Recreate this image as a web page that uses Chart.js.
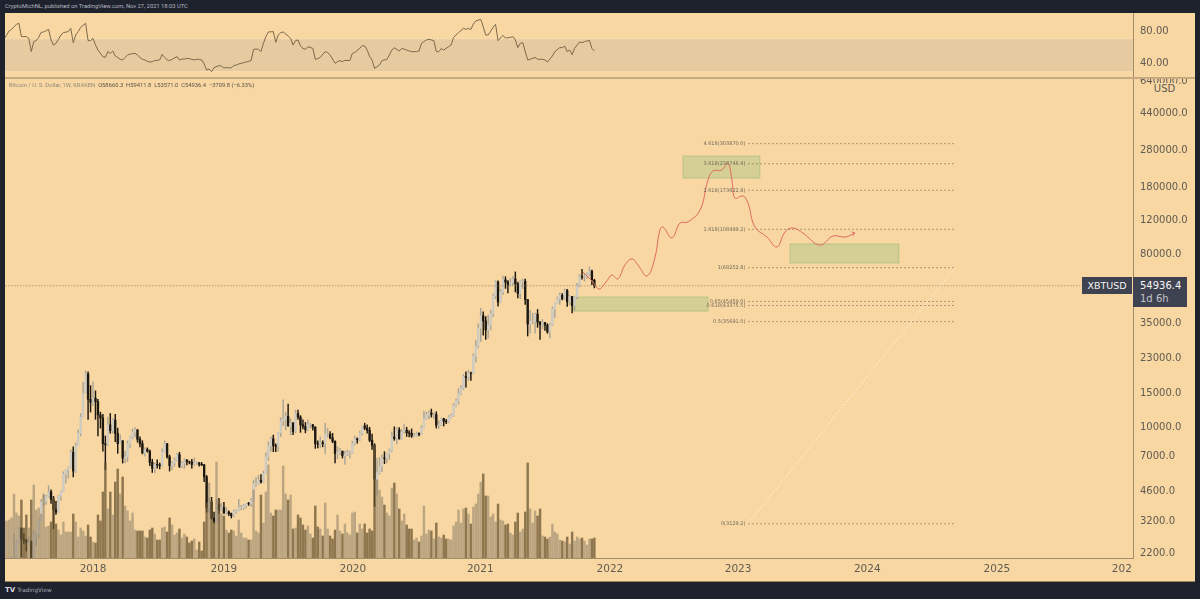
<!DOCTYPE html>
<html>
<head>
<meta charset="utf-8">
<title>XBTUSD</title>
<script src="https://cdn.jsdelivr.net/npm/chart.js@4"></script>
<style>
    html, body { margin: 0; padding: 0; background: #1e222d; width: 1200px; height: 599px; overflow: hidden; }
    body { position: relative; font-family: "DejaVu Sans", sans-serif; }
    canvas { position: absolute; left: 5px; display: block; }
    #rsiChart { top: 13px; }
    #mainChart { top: 78px; }
    #separator { position: absolute; left: 5px; top: 77px; width: 1190px; height: 1.5px; background: #c6ab82; }
    #bottomEdge { position: absolute; left: 5px; top: 581px; width: 1190px; height: 1px; background: #9a8255; }
    #header { position: absolute; left: 5px; top: 3px; font-family: Roboto, sans-serif; font-size: 5.8px; color: #b4b7c0; white-space: nowrap; }
    #legend { position: absolute; left: 9px; top: 82px; font-family: Roboto, sans-serif; font-size: 5.8px; color: #55524a; white-space: pre; }
    #legend span { color: #8f8a7c; }
    #footer { position: absolute; left: 5px; top: 586px; font-size: 5.7px; color: #a5a8b2; white-space: nowrap; }
    #footer b { color: #d8dae0; font-size: 7px; margin-right: 2px; }
    #unit { position: absolute; left: 1153px; top: 83px; width: 23px; height: 12px; background: #f9d7a3; color: #5d5a55; font-size: 10px; line-height: 12px; text-align: center; }
    #symbolTag { position: absolute; left: 1082px; top: 277px; width: 50px; height: 17px; background: #3f4250; color: #f2f2f2; font-size: 9.5px; line-height: 17px; text-align: center; }
    #priceTag { position: absolute; left: 1133px; top: 277px; width: 54px; height: 30px; background: #3f4250; color: #f5f5f5; font-size: 10px; line-height: 13px; }
    #priceTag div { padding-left: 7px; padding-top: 2px; }
    #priceTag div + div { color: #c3c4c9; padding-top: 0; }
</style>
</head>
<body>
<div id="header">CryptoMichNL, published on TradingView.com, Nov 27, 2021 18:03 UTC</div>
<canvas id="rsiChart" width="1190" height="65"></canvas>
<canvas id="mainChart" width="1190" height="503"></canvas>
<div id="separator"></div>
<div id="bottomEdge"></div>
<div id="legend"><span>Bitcoin / U. S. Dollar, 1W, KRAKEN</span>  O58660.3  H59411.8  L53571.0  C54936.4  −3709.8 (−6.33%)</div>
<div id="unit">USD</div>
<div id="symbolTag">XBTUSD</div>
<div id="priceTag"><div>54936.4</div><div>1d 6h</div></div>
<div id="footer"><b>TV</b>TradingView</div>

<script>
// -----------------------------
// Data (weekly bars)
// -----------------------------
const candleOpen = [
    1250,1340,1590,1780,2050,2050,2500,2950,2600,2560,
    2500,2520,1950,2750,2750,3250,4050,4100,4350,4600,
    4200,3700,3600,4350,4600,5700,6000,6150,7400,5900,
    8000,9300,11300,15000,19000,14000,13500,14200,13600,11600,
    11200,8200,8100,10300,9600,10900,9300,8200,8500,6900,
    7000,8200,8900,9400,9700,8650,8200,7350,7650,7500,
    6550,6100,6400,6350,6300,7400,8200,7000,6300,6500,
    6700,7200,6250,6500,6700,6600,6580,6400,6500,6500,
    6400,6350,5500,3800,4050,3350,3200,3950,3700,3800,
    3550,3600,3530,3450,3620,3650,3800,3810,3900,3990,
    3980,4130,5050,5070,5280,5180,5730,7000,8000,8700,
    8000,7950,9350,10800,11000,11400,10200,10500,9500,11800,
    11300,10300,10100,9700,10300,10300,10030,8200,8150,8300,
    8200,9200,9200,8800,8450,7300,7400,7500,7100,7250,
    7350,7350,8180,8700,8600,9300,10150,9900,9650,8550,
    8050,5350,5800,6250,6900,6850,7250,7550,8900,8720,
    9680,8700,9450,9650,9350,9300,9000,9050,9300,9200,
    9950,11050,11600,11850,11650,11650,10250,10300,11100,10750,
    10680,11300,11500,13000,13750,15000,16000,18400,18200,19200,
    19150,23500,26500,33000,38300,36000,32300,34300,39200,48600,
    57500,45200,51000,59000,57400,55800,57100,59700,56200,50100,
    57800,58000,46500,34700,35700,35800,39000,35500,34500,35300,
    34200,31500,34300,41500,44600,47000,49000,47000,51800,45200,
    48300,43200,48200,55000,61500,61000,61300,63300,65500,58660.3
];
const candleHigh = [
    1350,1650,1880,2100,2780,2550,3000,2980,2780,2600,
    2670,2540,2900,2800,3300,4200,4500,4400,4950,4700,
    4350,4100,4400,4650,5850,6000,6200,7600,7900,8300,
    9700,11800,17200,19700,19500,16500,17300,15500,14000,12000,
    11700,9000,11300,11800,11100,11700,9900,9150,8500,7500,
    8500,9000,9800,9950,9700,8900,8500,7800,7800,7600,
    6800,6500,6750,6500,7700,8500,8250,7150,6600,6900,
    7300,7400,6600,6850,6800,6650,6800,6900,6600,6550,
    6550,6400,5600,4300,4300,3600,4200,4250,4000,4050,
    3800,3650,3560,3700,3700,4200,3900,3950,4000,4050,
    4250,5300,5450,5600,5650,5900,7350,8400,8900,9100,
    8200,9400,11200,13900,12000,13200,11100,10600,12300,12300,
    11500,10950,10600,10900,10500,10350,10050,8500,8900,8500,
    10500,9900,9500,9300,8500,7900,7750,7500,7500,7600,
    7500,8450,9000,8800,9550,10150,10500,10300,10000,9200,
    8200,6900,6950,7150,7450,7300,7700,9450,10050,9950,
    9950,9700,10400,10000,9600,9800,9300,9450,9350,10200,
    12100,12000,12200,12450,11900,12050,10800,11200,11150,11000,
    11500,11750,13350,14100,15950,16500,18900,19500,19900,19450,
    24200,28400,34800,41900,40100,37900,38600,41000,49700,58400,
    58300,52600,61800,61300,58400,60000,61300,64900,57500,58500,
    59500,59500,46500,40900,39500,39500,41300,35700,36600,35400,
    34800,34800,42500,44800,48000,50500,50000,52900,52700,48800,
    48400,48500,56500,62900,67000,63700,64200,69000,66300,59411.8
];
const candleLow = [
    1230,1340,1560,1720,1950,2050,2480,2100,2450,2250,
    2480,1950,1850,2400,2650,3250,3900,3950,4300,4000,
    2950,3500,3600,4150,4600,5100,5400,6100,5500,5800,
    8000,9000,11300,15000,11000,12000,13000,11000,9000,9900,
    7500,6000,8000,9300,9300,8400,7300,8200,6500,6500,
    6600,7800,8700,8900,8350,7900,7250,7050,7400,6300,
    5800,5770,6100,6050,6250,7400,6900,5900,6000,6250,
    6650,6150,6150,6100,6350,6430,6100,6300,6400,6250,
    6300,5200,3600,3600,3300,3150,3200,3550,3650,3550,
    3500,3450,3350,3400,3550,3650,3700,3700,3780,3900,
    3850,4100,4900,5020,5100,5150,5700,6700,7500,7450,
    7450,7500,8950,10200,9700,10100,9100,9150,9350,11000,
    9400,9800,9350,9600,9900,9650,7750,7800,7800,7900,
    7300,8900,8700,8300,6500,6850,7200,6900,6400,7100,
    6900,7300,8050,8250,8500,9100,9700,9300,8400,7650,
    3850,4400,5700,5850,6450,6500,6800,7450,8550,8200,
    8650,8650,9300,8950,8900,8850,8900,9000,9000,9150,
    9900,11000,11100,11300,11100,9900,9850,10200,10150,10450,
    10550,11200,11400,12800,13200,14800,15700,16200,17600,17600,
    19000,21900,26000,28000,30300,28800,29300,32300,37900,47000,
    43000,44900,49300,53200,50400,54800,55500,51000,47500,47000,
    53000,43900,30000,31000,34800,31000,33300,28800,32700,32100,
    31000,29300,34000,37400,44600,43900,46300,46500,42800,43600,
    39600,40800,46900,54200,59500,58000,60000,62000,55600,53571
];
const candleClose = [
    1340,1590,1780,2050,2050,2500,2950,2600,2560,2500,
    2520,1950,2750,2750,3250,4050,4100,4350,4600,4200,
    3700,3600,4350,4600,5700,6000,6150,7400,5900,8000,
    9300,11300,15000,19000,14000,13500,14200,13600,11600,11200,
    8200,8100,10300,9600,10900,9300,8200,8500,6900,7000,
    8200,8900,9400,9700,8650,8200,7350,7650,7500,6550,
    6100,6400,6350,6300,7400,8200,7000,6300,6500,6700,
    7200,6250,6500,6700,6600,6580,6400,6500,6500,6400,
    6350,5500,3800,4050,3350,3200,3950,3700,3800,3550,
    3600,3530,3450,3620,3650,3800,3810,3900,3990,3980,
    4130,5050,5070,5280,5180,5730,7000,8000,8700,8000,
    7950,9350,10800,11000,11400,10200,10500,9500,11800,11300,
    10300,10100,9700,10300,10300,10030,8200,8150,8300,8200,
    9200,9200,8800,8450,7300,7400,7500,7100,7250,7350,
    7350,8180,8700,8600,9300,10150,9900,9650,8550,8050,
    5350,5800,6250,6900,6850,7250,7550,8900,8720,9680,
    8700,9450,9650,9350,9300,9000,9050,9300,9200,9950,
    11050,11600,11850,11650,11650,10250,10300,11100,10750,10680,
    11300,11500,13000,13750,15000,16000,18400,18200,19200,19150,
    23500,26500,33000,38300,36000,32300,34300,39200,48600,57500,
    45200,51000,59000,57400,55800,57100,59700,56200,50100,57800,
    58000,46500,34700,35700,35800,39000,35500,34500,35300,34200,
    31500,34300,41500,44600,47000,49000,47000,51800,45200,48300,
    43200,48200,55000,61500,61000,61300,63300,65500,59000,54936.4
];
const volumes = [
    36,37,38,40,64,45,42,58,30,43,
    30,58,73,48,50,44,63,31,32,36,
    60,34,28,23,36,26,26,26,44,36,
    21,30,27,22,33,21,16,15,43,37,
    66,95,49,66,43,76,89,64,81,52,
    47,37,45,28,27,27,27,21,20,28,
    30,24,18,18,30,31,26,40,33,23,
    25,29,20,24,21,15,17,19,8,16,
    7,36,55,75,57,36,96,58,44,42,
    28,25,28,27,22,38,25,20,20,18,
    18,68,27,25,63,35,66,93,45,42,
    48,48,48,92,64,58,63,29,30,43,
    40,33,28,32,24,20,52,31,29,22,
    55,29,22,19,28,43,27,24,34,25,
    23,45,46,25,34,29,34,25,29,27,
    113,78,68,61,53,45,42,70,75,64,
    49,37,44,33,29,29,18,20,16,22,
    52,24,28,27,19,35,21,20,23,19,
    19,18,32,36,48,35,49,50,44,34,
    51,54,64,76,84,62,62,41,44,36,
    54,38,37,33,34,25,23,36,45,26,
    29,46,95,49,35,47,42,49,22,21,
    19,21,34,26,24,18,17,16,21,14,
    26,17,21,19,20,17,13,19,19,20
];
const volumeMax = 480;

// RSI pane, vertices of the line
const rsiWeeks = [
    0,1,2,3,4,5,6,7,8,9,10,11,12,13,14,15,16,17,18,19,20,21,22,23,24,26,27,28,29,30,31,33,34,35,36,37,38,40,41,42,43,44,45,46,47,48,49,50,51,53,54,55,56,57,58,59,60,61,63,64,65,66,67,68,70,71,72,73,74,75,77,78,79,80,81,82,83,84,85,87,88,89,90,91,92,93,94,95,97,98,100,101,102,103,104,105,106,107,109,110,111,112,113,115,116,117,118,119,120,121,122,123,125,126,127,128,130,131,132,134,135,136,137,138,140,141,142,144,145,146,147,148,149,150,151,152,153,155,156,157,158,160,
    161,163,164,165,167,168,169,171,172,174,175,176,177,178,180,181,182,184,186,187,188,189,190,191,193,194,195,196,198,199,200,202,203,205,206,207,208,209,210,212,213,215,216,218,219,220,222,223,225,226,227,228,229,230,231,233,234,235,237,238,239
];
const rsiValues = [
    69.6,75,80,82,85.4,88.3,89.6,73,73,73,70.8,54.2,66.7,67.9,72,78.3,78.8,80.4,82,68.8,62.5,64.6,69.6,75,78,79.2,83.3,65.4,75,79.2,84.6,89.6,68,68,70.8,62.5,56.2,48,47,54.2,52,55,48.8,47,44.6,43.8,47,50,51.2,52,50,47,44.6,43.8,42,41.2,41.7,43,43.8,50.8,47,43.8,43,44.6,48,43.8,45,45,45.8,45.4,43.8,44.6,44.6,43.8,38.8,31.2,32.5,29.2,34.2,36.7,36.2,33.8,34.2,33.8,34.2,36.7,37.5,38.8,40.4,41.2,43,57,57.5,57,54.2,64.6,73,78.8,79.2,65.8,75,78,78.8,73.8,70.8,62.5,68,68.8,61.2,58.3,57,60.4,58.3,44.6,45.4,47,54.2,53,50,39.6,41.7,43,41.7,43.3,43,52,53.3,58.3,61.7,61.2,56.2,48,43.8,33.3,35.4,37.5,43,44.6,50,56.2,59,55,
    58.3,56.2,55,54.2,54.2,55,64.6,68.8,69.6,68,54.2,54.2,58,56.2,60.4,62.5,72,78,83.3,82,83.3,82,88.8,92.5,94.6,85.4,75,75,84.6,88.3,68,74.6,71.2,72,73,68.8,59.2,64.6,65.4,43.8,44.6,47,44.6,44.6,43.8,41.2,48.8,54.2,59.2,59.2,61.2,54.2,56.2,50.4,58.3,66.2,65.4,66.7,68.3,58.3,55
];
const rsiBandTop = 70;
const rsiBandBottom = 30;
const rsiTicks = [80, 40];
const rsiRange = [21.25, 102.5];

// Axes
const priceTicks = [640000, 440000, 280000, 180000, 120000, 80000, 35000, 23000, 15000, 10000, 7000, 4600, 3200, 2200];
const priceRange = [2071, 670600];
const weekRange = [0.36, 457.1];
const yearLabels = ["2018", "2019", "2020", "2021", "2022", "2023", "2024", "2025", "202"];
const yearWeeks = [36, 89, 141.2, 192.8, 245.3, 297.2, 349.5, 402, 452.6];

// Last price
const lastPrice = 54936.4;

// Fibonacci levels
const fibLabels = ["4.618(303870.0)", "3.618(238746.4)", "2.618(173622.8)", "1.618(108499.2)", "1(68252.8)", "0.65(45459.0)", "0.618(43375.5)", "0.5(35691.0)", "0(3129.2)"];
const fibPrices = [303870, 238746.4, 173622.8, 108499.2, 68252.8, 45459, 43375.5, 35691, 3129.2];
const fibWeeks = [301.2, 385];

// Faint diagonal between the 0 and the 1 level
const trendWeeks = [301.2, 385];
const trendPrices = [3129.2, 68252.8];

// Red projected path
const pathWeeks = [234.4, 238.4, 240.9, 243.7, 246.1, 248.5, 251.4, 254.2, 256.6, 260.3, 263.5, 265.5, 266.8, 270.4, 273.7, 276.9, 281.8, 285, 287, 290.6, 293.1, 294.7, 295.9, 299.2, 301.2, 304, 308.9, 312.9, 316.2, 319.4, 323.4, 330.3, 335.6, 340.5, 344.5];
const pathPrices = [64800, 57500, 52800, 57500, 62500, 59600, 70600, 75900, 70600, 61800, 76800, 107500, 111500, 97700, 117000, 118500, 136800, 196000, 218800, 221500, 240900, 196000, 158000, 162000, 148700, 111500, 98800, 87600, 105000, 110200, 103700, 89700, 100000, 98800, 103700];

// Green boxes
const boxWeekStart = [274.9, 318.2, 230.3];
const boxWeekEnd = [306, 362.3, 285];
const boxPriceTop = [262000, 90900, 48000];
const boxPriceBottom = [201000, 72300, 40500];

// -----------------------------
// Colours
// -----------------------------
const paneBg = "#f9d7a3";
const axisText = "#5f5b52";
const axisLine = "#a08d6c";
const upCandle = "#cfccc3";
const upWick = "#a9a599";
const downCandle = "#1c1710";
const upVolume = "rgba(150,135,110,0.62)";
const downVolume = "rgba(105,85,50,0.75)";
const bandEdge = "rgba(246,224,188,0.9)";

Chart.defaults.font.family = "'DejaVu Sans', sans-serif";
Chart.defaults.animation = false;

const weeks = candleClose.map((_, i) => i);
function flat(xs, value) { return xs.map(x => ({ x: x, y: value })); }
function pairs(xs, ys) { return xs.map((x, i) => ({ x: x, y: ys[i] })); }

// fixed axis strips, no extra room for half labels at the ends
function fitRight(scale) {
    scale.width = 62;
    scale.paddingTop = 0;
    scale.paddingBottom = 0;
}
function fitBottom(scale) {
    scale.height = 23;
    scale.paddingLeft = 0;
    scale.paddingRight = 0;
}

// -----------------------------
// Plugins
// -----------------------------
const paneBackground = {
    id: "paneBackground",
    beforeDraw(chart) {
        const ctx = chart.ctx;
        ctx.save();
        ctx.fillStyle = paneBg;
        ctx.fillRect(0, 0, chart.width, chart.height);
        ctx.restore();
    }
};

const boxesPlugin = {
    id: "boxes",
    beforeDatasetsDraw(chart) {
        const { ctx, scales: { x, y } } = chart;
        ctx.save();
        ctx.fillStyle = "rgba(140,190,120,0.32)";
        ctx.strokeStyle = "rgba(130,180,110,0.45)";
        ctx.lineWidth = 1;
        boxWeekStart.forEach((start, i) => {
            const left = x.getPixelForValue(start);
            const right = x.getPixelForValue(boxWeekEnd[i]);
            const top = y.getPixelForValue(boxPriceTop[i]);
            const bottom = y.getPixelForValue(boxPriceBottom[i]);
            ctx.fillRect(left, top, right - left, bottom - top);
            ctx.strokeRect(left, top, right - left, bottom - top);
        });
        ctx.restore();
    }
};

const overlayPlugin = {
    id: "overlay",
    afterDatasetsDraw(chart) {
        const { ctx, scales: { x, y } } = chart;
        ctx.save();

        // fib labels
        ctx.font = "5px 'DejaVu Sans'";
        ctx.fillStyle = "#6e6a5a";
        ctx.textAlign = "right";
        ctx.textBaseline = "middle";
        fibLabels.forEach((label, i) => {
            ctx.fillText(label, x.getPixelForValue(fibWeeks[0]) - 2.5, y.getPixelForValue(fibPrices[i]));
        });

        // arrow head on the red path
        const n = pathWeeks.length - 1;
        const tipX = x.getPixelForValue(pathWeeks[n]);
        const tipY = y.getPixelForValue(pathPrices[n]);
        ctx.strokeStyle = "#df6a60";
        ctx.lineWidth = 0.9;
        ctx.beginPath();
        ctx.moveTo(tipX - 3.5, tipY - 1.2);
        ctx.lineTo(tipX, tipY);
        ctx.lineTo(tipX - 2.2, tipY + 3);
        ctx.stroke();
        ctx.restore();
    }
};

// -----------------------------
// RSI pane
// -----------------------------
new Chart(document.getElementById("rsiChart"), {
    type: "line",
    plugins: [paneBackground],
    data: {
        datasets: [
            {
                data: pairs(rsiWeeks, rsiValues),
                borderColor: "#7c6a4c",
                borderWidth: 1,
                pointRadius: 0,
                order: 0
            },
            {
                data: flat(weekRange, rsiBandTop),
                borderColor: bandEdge,
                borderWidth: 1,
                borderDash: [2, 2],
                backgroundColor: "#e6cba0",
                fill: "+1",
                pointRadius: 0,
                order: 1
            },
            {
                data: flat(weekRange, rsiBandBottom),
                borderColor: bandEdge,
                borderWidth: 1,
                borderDash: [2, 2],
                pointRadius: 0,
                order: 1
            }
        ]
    },
    options: {
        responsive: false,
        layout: { padding: 0 },
        plugins: { legend: { display: false }, tooltip: { enabled: false } },
        scales: {
            x: { type: "linear", min: weekRange[0], max: weekRange[1], display: false },
            y: {
                position: "right",
                min: rsiRange[0],
                max: rsiRange[1],
                afterFit: fitRight,
                afterBuildTicks(scale) { scale.ticks = rsiTicks.map(v => ({ value: v })); },
                grid: { display: false, drawTicks: false },
                border: { display: true, color: axisLine },
                ticks: {
                    color: axisText,
                    font: { size: 10 },
                    padding: 7,
                    crossAlign: "near",
                    autoSkip: false,
                    callback: v => Number(v).toFixed(2)
                }
            }
        }
    }
});

// -----------------------------
// Price + volume pane
// -----------------------------
new Chart(document.getElementById("mainChart"), {
    type: "bar",
    plugins: [paneBackground, boxesPlugin, overlayPlugin],
    data: {
        datasets: [
            {
                type: "bar",
                yAxisID: "yVolume",
                grouped: false,
                data: pairs(weeks, volumes),
                backgroundColor: weeks.map(i => candleClose[i] >= candleOpen[i] ? upVolume : downVolume),
                barThickness: 1.8,
                order: 3
            },
            {
                type: "bar",
                yAxisID: "y",
                grouped: false,
                data: weeks.map(i => ({ x: i, y: [candleLow[i], candleHigh[i]] })),
                backgroundColor: weeks.map(i => candleClose[i] >= candleOpen[i] ? upWick : downCandle),
                barThickness: 0.8,
                order: 5
            },
            {
                type: "bar",
                yAxisID: "y",
                grouped: false,
                data: weeks.map(i => ({ x: i, y: [candleOpen[i], candleClose[i]] })),
                backgroundColor: weeks.map(i => candleClose[i] >= candleOpen[i] ? upCandle : downCandle),
                barThickness: 1.7,
                order: 4
            },
            ...fibPrices.map(price => ({
                type: "line",
                yAxisID: "y",
                data: flat(fibWeeks, price),
                borderColor: "rgba(125,110,85,0.75)",
                borderWidth: 0.8,
                borderDash: [2, 2],
                pointRadius: 0,
                order: 2
            })),
            {
                type: "line",
                yAxisID: "y",
                data: flat(weekRange, lastPrice),
                borderColor: "rgba(125,110,85,0.7)",
                borderWidth: 0.8,
                borderDash: [1.5, 1.5],
                pointRadius: 0,
                order: 2
            },
            {
                type: "line",
                yAxisID: "y",
                data: pairs(trendWeeks, trendPrices),
                borderColor: "#fff0d6",
                borderWidth: 1,
                borderDash: [2, 2],
                pointRadius: 0,
                order: 2
            },
            {
                type: "line",
                yAxisID: "y",
                data: pairs(pathWeeks, pathPrices),
                borderColor: "#df6a60",
                borderWidth: 1,
                tension: 0.4,
                pointRadius: 0,
                order: 1
            }
        ]
    },
    options: {
        responsive: false,
        layout: { padding: 0 },
        plugins: { legend: { display: false }, tooltip: { enabled: false } },
        scales: {
            x: {
                type: "linear",
                min: weekRange[0],
                max: weekRange[1],
                offset: false,
                afterFit: fitBottom,
                afterBuildTicks(scale) { scale.ticks = yearWeeks.map(v => ({ value: v })); },
                grid: { display: false, drawTicks: false, offset: false },
                border: { display: true, color: axisLine },
                ticks: {
                    color: axisText,
                    font: { size: 10.5 },
                    padding: 5,
                    maxRotation: 0,
                    autoSkip: false,
                    callback: v => yearLabels[yearWeeks.indexOf(v)]
                }
            },
            y: {
                type: "logarithmic",
                position: "right",
                bounds: "data",
                min: priceRange[0],
                max: priceRange[1],
                afterFit: fitRight,
                afterBuildTicks(scale) { scale.ticks = priceTicks.map(v => ({ value: v })); },
                grid: { display: false, drawTicks: false },
                border: { display: true, color: axisLine },
                ticks: {
                    color: axisText,
                    font: { size: 10 },
                    padding: 7,
                    crossAlign: "near",
                    autoSkip: false,
                    callback: v => Number(v).toFixed(1)
                }
            },
            yVolume: {
                type: "linear",
                display: false,
                min: 0,
                max: volumeMax
            }
        }
    }
});
</script>
</body>
</html>
